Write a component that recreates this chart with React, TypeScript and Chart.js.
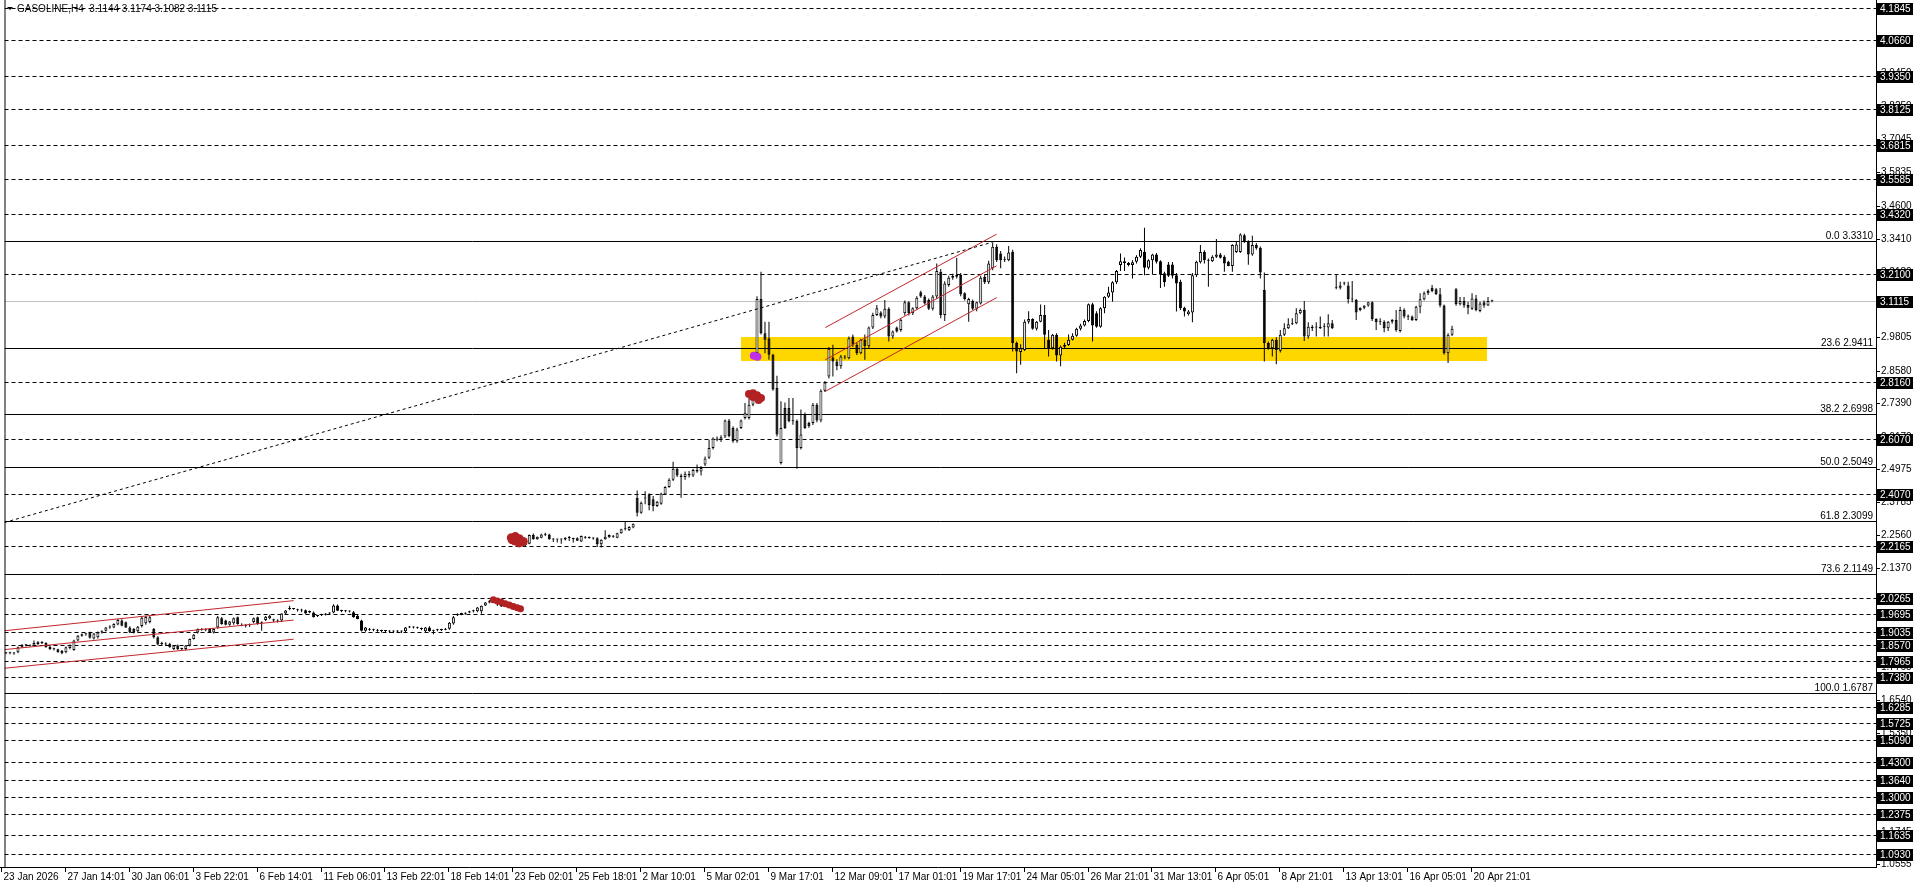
import React, { useEffect, useRef } from 'react';
import { Chart, registerables } from 'chart.js';

Chart.register(...registerables);

const chartTitle = 'GASOLINE,H4  3.1144 3.1174 3.1082 3.1115';

// H4 candles: [open, high, low, close]
const janFebBars: number[][] = [
  [1.826,1.830,1.822,1.827],[1.827,1.831,1.822,1.826],[1.826,1.830,1.820,1.825],[1.829,1.850,1.826,1.848],[1.848,1.860,1.845,1.856],
  [1.856,1.860,1.850,1.855],[1.855,1.858,1.850,1.853],[1.853,1.872,1.852,1.863],[1.860,1.870,1.855,1.868],[1.868,1.870,1.860,1.863],
  [1.863,1.866,1.846,1.848],[1.849,1.852,1.838,1.841],[1.841,1.846,1.836,1.840],[1.840,1.842,1.828,1.829],[1.835,1.838,1.822,1.826],
  [1.829,1.850,1.826,1.848],[1.845,1.858,1.840,1.855],[1.838,1.875,1.835,1.872],[1.872,1.892,1.870,1.890],[1.890,1.898,1.886,1.895],
  [1.895,1.900,1.890,1.898],[1.902,1.904,1.880,1.882],[1.880,1.900,1.876,1.898],[1.884,1.905,1.880,1.902],[1.902,1.910,1.898,1.906],
  [1.908,1.922,1.905,1.920],[1.920,1.928,1.915,1.923],[1.920,1.935,1.917,1.933],[1.931,1.952,1.928,1.947],[1.945,1.950,1.924,1.926],
  [1.939,1.942,1.918,1.920],[1.920,1.924,1.900,1.902],[1.914,1.918,1.898,1.902],[1.906,1.925,1.902,1.923],[1.925,1.960,1.920,1.955],
  [1.935,1.962,1.930,1.958],[1.940,1.962,1.935,1.957],[1.914,1.918,1.880,1.884],[1.884,1.888,1.855,1.858],[1.862,1.868,1.855,1.860],
  [1.860,1.866,1.852,1.858],[1.860,1.864,1.846,1.848],[1.841,1.856,1.838,1.854],[1.854,1.858,1.838,1.840],[1.841,1.846,1.835,1.842],
  [1.841,1.856,1.836,1.854],[1.854,1.880,1.850,1.878],[1.878,1.896,1.876,1.893],[1.902,1.916,1.898,1.914],[1.912,1.918,1.908,1.911],
  [1.911,1.916,1.906,1.910],[1.914,1.918,1.900,1.902],[1.902,1.916,1.898,1.914],[1.920,1.962,1.915,1.957],[1.954,1.958,1.930,1.933],
  [1.945,1.948,1.928,1.930],[1.930,1.944,1.926,1.942],[1.935,1.956,1.930,1.954],[1.957,1.960,1.930,1.933],[1.930,1.935,1.924,1.926],
  [1.926,1.932,1.920,1.927],[1.928,1.934,1.922,1.930],[1.940,1.956,1.935,1.954],[1.957,1.960,1.930,1.933],[1.937,1.942,1.908,1.939],
  [1.947,1.962,1.944,1.959],[1.954,1.966,1.950,1.963],[1.950,1.952,1.940,1.945],[1.945,1.950,1.938,1.942],[1.945,1.972,1.940,1.971],
  [1.971,1.984,1.968,1.982],[1.987,1.999,1.983,1.988],[1.988,1.990,1.985,1.987],[1.985,1.988,1.978,1.983],[1.983,1.988,1.976,1.982],
  [1.983,1.986,1.970,1.971],[1.975,1.982,1.972,1.980],[1.975,1.978,1.956,1.957],[1.962,1.966,1.958,1.963],[1.965,1.970,1.962,1.966],
  [1.966,1.972,1.964,1.971],[1.971,1.976,1.968,1.975],[1.975,2.005,1.972,2.000],[2.000,2.004,1.980,1.981],[1.981,1.985,1.976,1.980],
  [1.980,1.984,1.976,1.979],[1.979,1.982,1.975,1.978],[1.976,1.980,1.955,1.957],[1.963,1.966,1.950,1.951],[1.945,1.948,1.905,1.908],
  [1.908,1.922,1.904,1.920],[1.914,1.918,1.908,1.912],[1.911,1.915,1.906,1.910],[1.910,1.914,1.904,1.908],[1.908,1.912,1.902,1.907],
  [1.907,1.911,1.902,1.908],[1.906,1.910,1.900,1.905],[1.905,1.909,1.900,1.906],[1.906,1.910,1.901,1.905],[1.905,1.909,1.900,1.906],
  [1.906,1.922,1.903,1.920],[1.920,1.925,1.918,1.922],[1.921,1.924,1.916,1.920],[1.920,1.923,1.915,1.919],[1.916,1.920,1.910,1.914],
  [1.906,1.922,1.903,1.920],[1.920,1.924,1.904,1.906],[1.908,1.912,1.895,1.908],[1.910,1.915,1.906,1.911],[1.911,1.915,1.907,1.912],
  [1.912,1.918,1.910,1.915],[1.915,1.940,1.912,1.937],[1.934,1.962,1.930,1.957],[1.965,1.972,1.962,1.969],[1.969,1.974,1.965,1.970],
  [1.970,1.976,1.966,1.973],[1.975,1.981,1.972,1.979],[1.979,1.985,1.975,1.981],[1.979,1.995,1.976,1.993],[1.979,2.000,1.970,1.999],
  [2.000,2.013,1.998,2.011],[2.011,2.020,2.008,2.016],[2.016,2.025,2.012,2.018],[2.011,2.014,1.998,2.005],[2.007,2.010,1.995,1.997],
  [2.005,2.008,1.995,1.996],[2.003,2.006,1.992,1.994],
];

const febMarBars: number[][] = [
  [2.242,2.246,2.238,2.241],[2.232,2.236,2.222,2.226],[2.226,2.228,2.220,2.224],[2.221,2.236,2.218,2.234],[2.226,2.260,2.224,2.258],
  [2.258,2.263,2.240,2.242],[2.242,2.252,2.240,2.251],[2.248,2.262,2.246,2.260],[2.260,2.266,2.254,2.259],[2.260,2.262,2.240,2.242],
  [2.242,2.246,2.232,2.241],[2.241,2.244,2.230,2.242],[2.242,2.245,2.226,2.241],[2.241,2.250,2.238,2.248],[2.248,2.254,2.236,2.247],
  [2.245,2.248,2.230,2.243],[2.246,2.250,2.236,2.237],[2.234,2.256,2.232,2.254],[2.250,2.254,2.244,2.248],[2.248,2.252,2.244,2.247],
  [2.246,2.250,2.240,2.245],[2.246,2.250,2.214,2.224],[2.224,2.242,2.212,2.240],[2.242,2.275,2.240,2.251],[2.250,2.260,2.247,2.258],
  [2.255,2.258,2.248,2.251],[2.248,2.266,2.246,2.264],[2.264,2.281,2.262,2.279],[2.279,2.306,2.274,2.280],[2.275,2.290,2.272,2.287],
  [2.285,2.300,2.282,2.299],[2.394,2.420,2.325,2.339],[2.339,2.380,2.335,2.376],[2.391,2.418,2.370,2.392],[2.406,2.410,2.348,2.367],
  [2.388,2.400,2.345,2.364],[2.364,2.382,2.360,2.379],[2.372,2.412,2.368,2.409],[2.406,2.436,2.404,2.433],[2.433,2.465,2.430,2.460],
  [2.460,2.525,2.455,2.500],[2.500,2.505,2.470,2.475],[2.475,2.482,2.394,2.470],[2.470,2.490,2.460,2.482],[2.482,2.492,2.468,2.475],
  [2.475,2.500,2.470,2.495],[2.495,2.515,2.485,2.490],[2.490,2.510,2.475,2.503],[2.515,2.545,2.510,2.537],[2.540,2.606,2.535,2.576],
  [2.576,2.615,2.570,2.610],[2.610,2.618,2.600,2.606],[2.606,2.622,2.598,2.615],[2.618,2.680,2.612,2.676],[2.676,2.682,2.615,2.619],
  [2.649,2.655,2.595,2.600],[2.600,2.650,2.595,2.643],[2.649,2.680,2.645,2.676],[2.685,2.740,2.680,2.704],[2.685,2.764,2.680,2.734],
  [2.734,2.770,2.728,2.764],
];

const marchBars: number[][] = [
  [2.922,3.130,2.904,3.120],[3.120,3.220,2.990,2.995],[2.995,3.037,2.922,2.971],[2.977,3.037,2.898,2.916],[2.916,2.920,2.785,2.789],
  [2.795,2.840,2.618,2.625],[2.521,2.746,2.515,2.649],[2.722,2.742,2.645,2.649],[2.722,2.758,2.670,2.673],[2.673,2.758,2.661,2.675],
  [2.675,2.680,2.500,2.576],[2.576,2.716,2.570,2.625],[2.700,2.705,2.645,2.649],[2.667,2.672,2.650,2.655],[2.667,2.740,2.660,2.734],
  [2.734,2.740,2.670,2.676],[2.676,2.790,2.670,2.785],[2.785,2.820,2.780,2.815],[2.837,2.945,2.830,2.938],[2.906,2.953,2.837,2.892],
  [2.892,2.900,2.860,2.874],[2.874,2.915,2.865,2.910],[2.906,2.915,2.900,2.910],[2.904,2.983,2.900,2.977],[2.983,2.990,2.945,2.953],
  [2.953,2.960,2.915,2.922],[2.922,2.975,2.918,2.971],[2.971,2.990,2.898,2.947],[2.947,3.020,2.940,3.016],[3.016,3.070,3.010,3.062],
  [3.062,3.098,3.058,3.086],[3.071,3.075,3.050,3.056],[3.056,3.116,3.050,3.084],[3.084,3.090,2.965,2.983],[2.983,3.005,2.975,3.001],
  [3.016,3.020,2.998,3.001],[3.007,3.050,3.000,3.044],[3.068,3.115,3.060,3.108],[3.108,3.112,3.060,3.068],[3.068,3.090,3.062,3.086],
  [3.086,3.130,3.080,3.125],[3.145,3.150,3.125,3.129],[3.129,3.135,3.100,3.104],[3.116,3.122,3.080,3.084],[3.084,3.135,3.078,3.129],
  [3.129,3.250,3.120,3.222],[3.220,3.230,3.050,3.062],[3.062,3.185,3.040,3.177],[3.171,3.205,3.165,3.198],[3.198,3.212,3.190,3.205],
  [3.208,3.271,3.195,3.201],[3.208,3.215,3.130,3.137],[3.141,3.145,3.115,3.120],[3.101,3.125,3.037,3.120],[3.113,3.118,3.080,3.084],
  [3.084,3.110,3.075,3.108],[3.104,3.205,3.100,3.198],[3.201,3.210,3.175,3.181],[3.181,3.260,3.175,3.250],[3.232,3.327,3.225,3.311],
  [3.311,3.320,3.255,3.262],[3.286,3.295,3.232,3.262],[3.262,3.275,3.255,3.262],[3.262,3.314,3.258,3.290],[3.293,3.300,2.928,2.959],
  [2.959,2.965,2.849,2.928],[2.926,2.955,2.880,2.940],[2.934,3.045,2.930,3.037],
];

const aprilBars: number[][] = [
  [3.037,3.075,3.030,3.047],[3.047,3.050,3.008,3.011],[3.011,3.040,3.005,3.037],[3.037,3.100,3.035,3.062],[3.062,3.098,2.940,2.989],
  [2.971,3.007,2.910,2.940],[2.940,2.992,2.935,2.989],[2.989,2.995,2.892,2.914],[2.914,2.950,2.874,2.946],[2.946,2.960,2.940,2.952],
  [2.952,2.990,2.948,2.971],[2.971,2.995,2.968,2.986],[2.986,3.015,2.982,3.011],[3.011,3.030,3.005,3.023],[3.023,3.045,3.020,3.040],
  [3.040,3.104,3.035,3.101],[3.101,3.106,2.965,3.023],[3.068,3.075,3.015,3.019],[3.019,3.090,3.015,3.086],[3.086,3.130,3.068,3.128],
  [3.128,3.165,3.125,3.144],[3.144,3.185,3.110,3.181],[3.181,3.226,3.175,3.222],[3.244,3.286,3.222,3.258],[3.258,3.272,3.222,3.252],
  [3.252,3.255,3.240,3.244],[3.244,3.262,3.195,3.254],[3.256,3.280,3.250,3.274],[3.274,3.305,3.270,3.299],[3.293,3.380,3.207,3.234],
  [3.234,3.265,3.228,3.262],[3.262,3.285,3.210,3.283],[3.283,3.288,3.250,3.256],[3.258,3.262,3.160,3.210],[3.214,3.220,3.165,3.181],
  [3.246,3.255,3.200,3.205],[3.246,3.255,3.195,3.205],[3.207,3.215,3.074,3.177],[3.183,3.190,3.080,3.086],[3.088,3.092,3.056,3.074],
  [3.064,3.080,3.060,3.074],[3.071,3.215,3.035,3.207],[3.207,3.260,3.200,3.256],[3.254,3.317,3.250,3.292],[3.292,3.298,3.250,3.262],
  [3.262,3.268,3.165,3.260],[3.258,3.280,3.255,3.274],[3.274,3.339,3.270,3.283],[3.283,3.288,3.268,3.271],[3.274,3.280,3.220,3.250],
  [3.256,3.260,3.240,3.241],[3.241,3.320,3.220,3.317],[3.292,3.329,3.288,3.319],[3.292,3.360,3.288,3.356],[3.353,3.358,3.325,3.331],
  [3.331,3.335,3.245,3.283],[3.283,3.351,3.278,3.317],[3.317,3.325,3.300,3.305],[3.307,3.312,3.195,3.217],[3.153,3.217,2.892,2.959],
  [2.959,2.965,2.935,2.940],[2.940,2.975,2.910,2.971],[2.971,2.980,2.882,2.934],[2.931,3.007,2.925,2.989],[2.989,3.031,2.985,3.013],
  [3.013,3.050,3.010,3.028],[3.028,3.050,3.025,3.031],[3.031,3.086,3.028,3.068],[3.068,3.085,3.064,3.080],[3.080,3.113,2.967,2.983],
  [2.983,3.035,2.975,3.019],[3.019,3.025,3.003,3.013],[3.016,3.035,2.983,3.016],[3.019,3.056,3.010,3.013],[3.019,3.031,2.983,3.019],
  [3.016,3.064,2.983,3.031],[3.031,3.043,3.010,3.013],[3.161,3.210,3.156,3.161],[3.161,3.183,3.155,3.169],[3.177,3.183,3.170,3.178],
  [3.169,3.183,3.104,3.120],[3.120,3.186,3.108,3.118],[3.116,3.120,3.043,3.071],[3.080,3.090,3.075,3.088],[3.088,3.096,3.083,3.096],
  [3.096,3.110,3.092,3.108],[3.108,3.112,3.040,3.047],[3.047,3.050,3.007,3.035],[3.037,3.050,3.025,3.037],[3.037,3.042,2.999,3.013],
  [3.013,3.040,3.003,3.037],[3.037,3.047,3.030,3.043],[3.043,3.080,3.000,3.007],[3.003,3.092,2.998,3.080],[3.080,3.086,3.050,3.056],
  [3.056,3.063,3.043,3.055],[3.056,3.060,3.040,3.043],[3.043,3.095,3.040,3.092],[3.092,3.141,3.068,3.119],[3.119,3.147,3.115,3.141],
  [3.141,3.156,3.135,3.149],[3.161,3.171,3.145,3.149],[3.156,3.160,3.135,3.137],[3.137,3.160,3.090,3.096],[3.096,3.100,2.916,2.922],
  [2.922,2.995,2.886,2.989],[2.989,3.022,2.985,3.011],[3.156,3.160,3.095,3.101],[3.101,3.127,3.096,3.113],[3.113,3.127,3.088,3.096],
  [3.098,3.110,3.064,3.088],[3.084,3.141,3.080,3.122],[3.122,3.135,3.075,3.080],[3.076,3.110,3.072,3.104],[3.108,3.115,3.088,3.096],
  [3.096,3.127,3.094,3.113],[3.1144,3.1174,3.1082,3.1115],
];

// time axis: one label every 16 bars
const timeLabels = [
  '23 Jan 2026','27 Jan 14:01','30 Jan 06:01','3 Feb 22:01','6 Feb 14:01','11 Feb 06:01','13 Feb 22:01','18 Feb 14:01',
  '23 Feb 02:01','25 Feb 18:01','2 Mar 10:01','5 Mar 02:01','9 Mar 17:01','12 Mar 09:01','17 Mar 01:01','19 Mar 17:01',
  '24 Mar 05:01','26 Mar 21:01','31 Mar 13:01','6 Apr 05:01','8 Apr 21:01','13 Apr 13:01','16 Apr 05:01','20 Apr 21:01',
];
const labelStep = 16;

// price scale ticks
const priceTicks = [
  1.0555,1.1745,1.2950,1.4160,1.5350,1.6540,1.7765,1.8955,2.0160,2.1370,2.2560,2.3785,2.4975,2.6170,2.7390,
  2.8580,2.9805,3.0995,3.2180,3.3410,3.4600,3.5835,3.7045,3.8250,3.9450,4.0675,
];

// dashed horizontal levels
const levelPrices = [
  4.1845,4.0660,3.9350,3.8125,3.6815,3.5585,3.4320,3.2100,2.8160,2.6070,2.4070,2.2165,2.0265,1.9695,
  1.9035,1.8570,1.7965,1.7380,1.6285,1.5725,1.5090,1.4300,1.3640,1.3000,1.2375,1.1635,1.0930,
];
const bidPrice = 3.1115;

// Fibonacci retracement
const fibRatios = [0.0, 23.6, 38.2, 50.0, 61.8, 73.6, 100.0];
const fibPrices = [3.3310, 2.9411, 2.6998, 2.5049, 2.3099, 2.1149, 1.6787];

// yellow zone [bar from, bar to], [price low, price high]
const zoneBarsSpan = [183.9, 370.8];
const zonePriceSpan = [2.894, 2.983];

// trend lines [bar, price]
const dottedTrend = [[-0.4, 2.3035], [246.8, 3.327]];
const janChannelUpper = [[-0.4, 1.908], [72, 2.018]];
const janChannelMiddle = [[-0.4, 1.839], [72, 1.947]];
const janChannelLower = [[-0.4, 1.771], [72, 1.877]];
const marChannelUpper = [[205.1, 3.0156], [248, 3.357]];
const marChannelMiddle = [[205.1, 2.898], [248, 3.2415]];
const marChannelLower = [[205.1, 2.7825], [248, 3.125]];

// hand-drawn marks
const redMarkA = [[122,2.021],[123,2.017],[124,2.012],[125,2.007],[126,2.002],[127,1.997],[128,1.992],[128.8,1.988]];
const redMarkB = [[126.5,2.248],[127.5,2.252],[128.5,2.244],[129.5,2.234],[127.5,2.236],[128.5,2.229],[126.7,2.240]];
const redMarkC = [[186,2.773],[187,2.776],[188,2.768],[189,2.758],[187,2.762],[188.4,2.751]];
const purpleMark = [[187.2,2.913],[188.1,2.909]];

const bars = [...janFebBars, ...febMarBars, ...marchBars, ...aprilBars];

const FONT = '10px "Liberation Sans", Arial, sans-serif';

const mt4Plugin = {
  id: 'mt4',
  beforeDatasetsDraw(chart: any) {
    const { ctx, chartArea: a } = chart;
    const xs = chart.scales.x;
    const ys = chart.scales.y;
    ctx.save();
    ctx.beginPath();
    ctx.rect(a.left, a.top, a.right - a.left, a.bottom - a.top);
    ctx.clip();
    const zx1 = Math.round(xs.getPixelForValue(zoneBarsSpan[0]));
    const zx2 = Math.round(xs.getPixelForValue(zoneBarsSpan[1]));
    const zy1 = Math.round(ys.getPixelForValue(zonePriceSpan[1]));
    const zy2 = Math.round(ys.getPixelForValue(zonePriceSpan[0]));
    ctx.fillStyle = '#ffd700';
    ctx.fillRect(zx1, zy1, zx2 - zx1, zy2 - zy1);
    const hline = (p: number, color: string, dash: number[]) => {
      const py = Math.round(ys.getPixelForValue(p)) + 0.5;
      ctx.strokeStyle = color;
      ctx.lineWidth = 1;
      ctx.setLineDash(dash);
      ctx.beginPath();
      ctx.moveTo(a.left, py);
      ctx.lineTo(a.right, py);
      ctx.stroke();
    };
    levelPrices.forEach((p) => hline(p, '#000', [4, 3]));
    hline(bidPrice, '#c0c0c0', []);
    fibPrices.forEach((p) => hline(p, '#000', []));
    ctx.restore();
  },
  afterDraw(chart: any) {
    const { ctx, chartArea: a } = chart;
    const xs = chart.scales.x;
    const ys = chart.scales.y;
    ctx.save();
    ctx.setLineDash([]);
    ctx.strokeStyle = '#000';
    ctx.lineWidth = 1;
    ctx.beginPath();
    ctx.moveTo(a.left + 0.5, 0);
    ctx.lineTo(a.left + 0.5, a.bottom);
    ctx.moveTo(a.right + 0.5, 0);
    ctx.lineTo(a.right + 0.5, a.bottom + 1);
    ctx.moveTo(0, a.bottom + 0.5);
    ctx.lineTo(a.right + 1, a.bottom + 0.5);
    ctx.stroke();

    ctx.font = FONT;
    ctx.textBaseline = 'middle';
    ctx.textAlign = 'left';
    ctx.fillStyle = '#000';
    priceTicks.forEach((p) => {
      const py = Math.round(ys.getPixelForValue(p)) + 0.5;
      ctx.beginPath();
      ctx.moveTo(a.right + 1, py);
      ctx.lineTo(a.right + 4, py);
      ctx.stroke();
      ctx.fillText(p.toFixed(4), a.right + 5, py);
    });

    const boxLabel = (p: number) => {
      const py = Math.round(ys.getPixelForValue(p));
      ctx.fillStyle = '#000';
      ctx.fillRect(a.right + 1, py - 5, 36, 12);
      ctx.fillStyle = '#fff';
      ctx.fillText(p.toFixed(4), a.right + 4, py + 1);
    };
    levelPrices.forEach(boxLabel);
    boxLabel(bidPrice);

    ctx.fillStyle = '#000';
    ctx.textAlign = 'right';
    ctx.textBaseline = 'bottom';
    fibPrices.forEach((p, k) => {
      const py = Math.round(ys.getPixelForValue(p));
      ctx.fillText(fibRatios[k].toFixed(1) + ' ' + p.toFixed(4), a.right - 3, py);
    });

    ctx.textAlign = 'left';
    ctx.textBaseline = 'middle';
    timeLabels.forEach((t, k) => {
      const px = Math.round(xs.getPixelForValue(k * labelStep)) - 4.5;
      ctx.beginPath();
      ctx.moveTo(px, a.bottom + 1);
      ctx.lineTo(px, a.bottom + 5);
      ctx.stroke();
      ctx.fillText(t, px + 2, a.bottom + 10);
    });

    ctx.beginPath();
    ctx.moveTo(7, 7);
    ctx.lineTo(13, 7);
    ctx.lineTo(10, 10);
    ctx.closePath();
    ctx.fill();
    ctx.fillText(chartTitle, 17, 9);
    ctx.restore();
  },
};

const toPts = (arr: number[][]) => arr.map(([x, y]) => ({ x, y }));

const lineSet = (pts: number[][], color: string, dash: number[]) => ({
  type: 'line',
  data: toPts(pts),
  borderColor: color,
  borderWidth: 1,
  borderDash: dash,
  pointRadius: 0,
  fill: false,
  tension: 0,
  order: -1,
});

const markSet = (pts: number[][], color: string, r: number) => ({
  type: 'line',
  data: toPts(pts),
  showLine: false,
  pointRadius: r,
  pointBackgroundColor: color,
  pointBorderWidth: 0,
  order: -2,
});

export default function App() {
  const ref = useRef<HTMLCanvasElement | null>(null);
  useEffect(() => {
    if (!ref.current) return;
    const wicks = bars.map((b, i) => ({ x: i, y: [b[2], b[1]] }));
    const bodies = bars.map((b, i) => ({ x: i, y: [b[0], b[3]] }));
    const fills = bars.map((b) => (b[3] >= b[0] ? '#ffffff' : '#000000'));
    const red = '#c3252b';
    const chart = new Chart(ref.current, {
      type: 'bar',
      data: {
        datasets: [
          {
            data: bodies,
            backgroundColor: fills,
            borderColor: '#000',
            borderWidth: 1,
            borderSkipped: false,
            barThickness: 3,
            minBarLength: 1,
            grouped: false,
            inflateAmount: 0,
            order: 0,
          } as any,
          {
            data: wicks,
            backgroundColor: '#000',
            borderWidth: 0,
            barThickness: 1,
            grouped: false,
            inflateAmount: 0,
            order: 1,
          } as any,
          lineSet(dottedTrend, '#000', [3, 3]) as any,
          lineSet(janChannelUpper, red, []) as any,
          lineSet(janChannelMiddle, red, []) as any,
          lineSet(janChannelLower, red, []) as any,
          lineSet(marChannelUpper, red, []) as any,
          lineSet(marChannelMiddle, red, []) as any,
          lineSet(marChannelLower, red, []) as any,
          markSet(redMarkA, '#b22222', 3.5) as any,
          markSet(redMarkB, '#b22222', 4.5) as any,
          markSet(redMarkC, '#b22222', 4) as any,
          markSet(purpleMark, '#c030e8', 4) as any,
        ],
      },
      options: {
        responsive: false,
        devicePixelRatio: 1,
        animation: false,
        events: [],
        layout: { padding: { left: 2, right: 40, top: 2, bottom: 21 } },
        scales: {
          x: { type: 'linear', display: false, min: -0.375, max: 468.125, offset: false },
          y: { type: 'linear', display: false, min: 1.0448, max: 4.196 },
        },
        plugins: { legend: { display: false }, tooltip: { enabled: false } },
      },
      plugins: [mt4Plugin],
    } as any);
    return () => chart.destroy();
  }, []);
  return (
    <div style={{ position: 'fixed', left: 0, top: 0, width: 1916, height: 888, background: '#fff' }}>
      <canvas ref={ref} width={1916} height={888} style={{ display: 'block', width: 1916, height: 888 }} />
    </div>
  );
}
